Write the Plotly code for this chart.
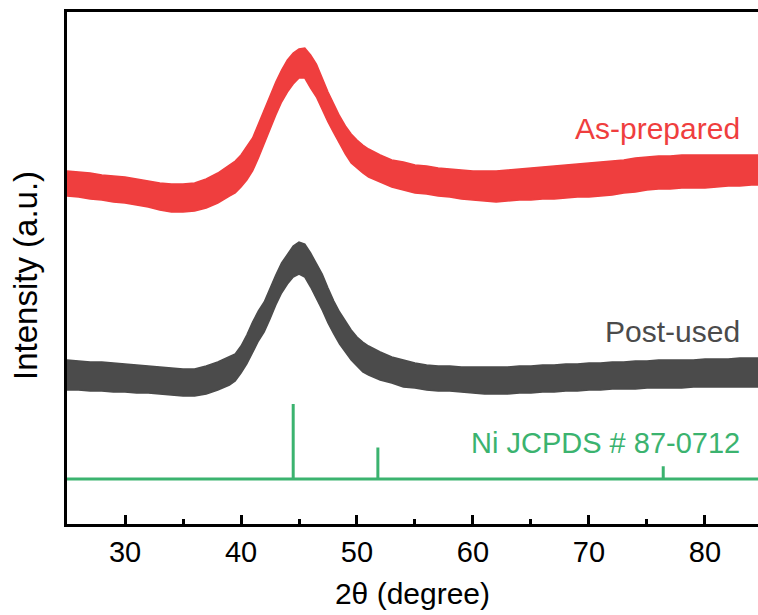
import plotly.graph_objects as go

# 2-theta grid (degree)
two_theta = (list(range(25, 39))
             + [39, 39.5, 40, 40.5, 41, 41.5, 42, 42.5, 43, 43.5, 44, 44.5, 45, 45.5,
                46, 46.5, 47, 47.5, 48, 48.5, 49, 49.5, 50, 50.5, 51]
             + list(range(52, 86)))

# As-prepared: upper / lower edge of the noisy trace (a.u.)
asprep_top = [353, 352, 351, 349, 348, 347, 345, 343, 341, 340, 340, 341, 345, 351,
              359, 363, 369, 377, 386, 400, 414, 428, 442, 454, 464, 471, 475, 476, 469, 460,
              446, 432, 420, 408, 398, 390, 384, 379, 375,
              369, 364, 362, 359, 358, 356, 355, 354, 353, 353, 353, 354, 355, 356, 357, 358,
              359, 360, 361, 362, 363, 364, 366, 367, 368, 368, 369, 369, 369, 369, 369, 369,
              369, 369]
asprep_bot = [328, 327, 325, 324, 322, 321, 319, 317, 314, 312, 312, 313, 316, 321,
              328, 331, 337, 344, 353, 366, 380, 394, 409, 422, 432, 440, 446, 446, 436, 427,
              414, 402, 391, 380, 370, 361, 356, 351, 347,
              342, 337, 334, 331, 330, 328, 327, 325, 324, 323, 322, 323, 324, 324, 325, 325,
              326, 327, 327, 328, 329, 331, 332, 334, 335, 335, 336, 336, 336, 337, 338, 338,
              339, 339]

# Post-used: upper / lower edge of the noisy trace (a.u.)
post_top = [164, 163, 162, 162, 161, 160, 159, 158, 157, 156, 155, 155, 158, 162,
            167, 170, 178, 189, 202, 213, 222, 236, 249, 261, 270, 278, 282, 280, 271, 261,
            250, 236, 223, 212, 203, 194, 187, 182, 178,
            172, 167, 164, 161, 159, 158, 158, 157, 157, 157, 157, 157, 158, 158, 159, 159,
            160, 160, 161, 161, 162, 162, 163, 163, 164, 164, 164, 164, 165, 165, 165, 166,
            166, 166]
post_bot = [134, 134, 133, 133, 132, 132, 131, 131, 130, 129, 128, 128, 130, 134,
            139, 143, 151, 160, 171, 183, 192, 205, 219, 231, 240, 247, 250, 247, 237, 226,
            214, 201, 190, 180, 172, 164, 158, 152, 149,
            144, 141, 137, 136, 134, 133, 133, 132, 131, 130, 130, 130, 131, 131, 132, 132,
            133, 133, 134, 134, 135, 135, 135, 136, 136, 136, 136, 137, 137, 137, 137, 137,
            137, 137]

# Ni reference (JCPDS # 87-0712)
ref_pos = [44.5, 51.8, 76.4]
ref_int = [100, 42, 17]
ref_base = 45
ref_scale = 0.75

RED = "#EF3E3E"
GRAY = "#4B4B4B"
GREEN = "#3BB36F"
FONT = "Arial, 'Liberation Sans', sans-serif"

fig = go.Figure()

def band(top, bot, color):
    fig.add_trace(go.Scatter(
        x=two_theta + two_theta[::-1],
        y=top + bot[::-1],
        fill="toself", fillcolor=color,
        mode="lines", line=dict(color=color, width=1.5),
        hoverinfo="skip", showlegend=False))

band(asprep_top, asprep_bot, RED)
band(post_top, post_bot, GRAY)

# reference baseline
fig.add_trace(go.Scatter(x=[two_theta[0], two_theta[-1]], y=[ref_base, ref_base],
                         mode="lines", line=dict(color=GREEN, width=3),
                         showlegend=False, hoverinfo="skip"))
# reference sticks
sx, sy = [], []
for p, i in zip(ref_pos, ref_int):
    sx += [p, p, None]
    sy += [ref_base, ref_base + i * ref_scale, None]
fig.add_trace(go.Scatter(x=sx, y=sy, mode="lines", line=dict(color=GREEN, width=3),
                         showlegend=False, hoverinfo="skip"))

fig.add_annotation(x=83.2, y=396, text="As-prepared", showarrow=False, xanchor="right",
                   yanchor="middle", font=dict(color=RED, size=30, family=FONT))
fig.add_annotation(x=83.2, y=193, text="Post-used", showarrow=False, xanchor="right",
                   yanchor="middle", font=dict(color=GRAY, size=30, family=FONT))
fig.add_annotation(x=83.2, y=81, text="Ni JCPDS # 87-0712", showarrow=False, xanchor="right",
                   yanchor="middle", font=dict(color=GREEN, size=29, family=FONT))

# y-axis title
fig.add_annotation(xref="paper", yref="paper", x=0, y=0.5, xshift=-42, yshift=-8,
                   text="Intensity (a.u.)", textangle=-90, showarrow=False,
                   xanchor="center", yanchor="middle",
                   font=dict(size=33, family=FONT, color="black"))

fig.update_layout(
    width=758, height=615,
    margin=dict(l=67, r=0, t=12, b=91),
    paper_bgcolor="white", plot_bgcolor="white",
    font=dict(family=FONT, color="black"),
    xaxis=dict(range=[25, 84.57], showgrid=False, zeroline=False,
               showline=True, linecolor="black", linewidth=3, mirror=True,
               ticks="inside", ticklen=9, tickwidth=2.5, tickcolor="black",
               tickvals=[30, 40, 50, 60, 70, 80],
               minor=dict(ticks="inside", ticklen=5, tickwidth=2.5, tickcolor="black",
                          tickvals=[35, 45, 55, 65, 75]),
               tickfont=dict(size=29, family=FONT),
               title=dict(text="2θ (degree)", font=dict(size=30, family=FONT), standoff=17)),
    yaxis=dict(range=[0, 512], showgrid=False, zeroline=False,
               showline=True, linecolor="black", linewidth=3, mirror=False,
               ticks="", showticklabels=False),
)

fig.write_html("out.html")
